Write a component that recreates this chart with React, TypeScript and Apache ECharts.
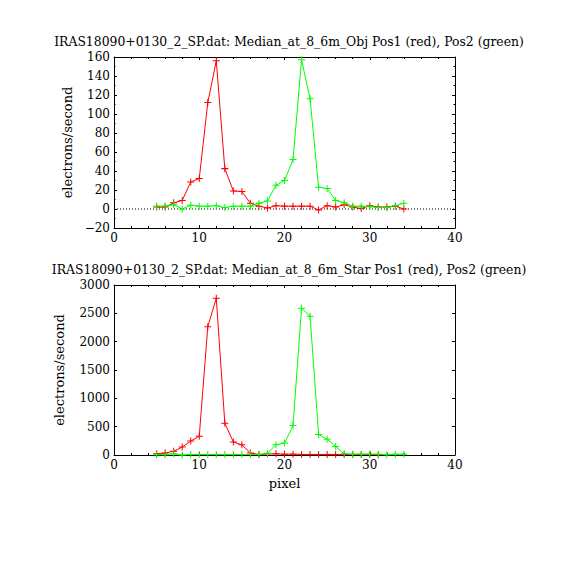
import React, { useEffect, useRef } from "react";
import * as echarts from "echarts";

const titleObj = "IRAS18090+0130_2_SP.dat: Median_at_8_6m_Obj Pos1 (red), Pos2 (green)";
const titleStar = "IRAS18090+0130_2_SP.dat: Median_at_8_6m_Star Pos1 (red), Pos2 (green)";
const yName = "electrons/second";
const xName = "pixel";

const pixels = [5, 6, 7, 8, 9, 10, 11, 12, 13, 14, 15, 16, 17, 18, 19, 20, 21, 22, 23, 24, 25, 26, 27, 28, 29, 30, 31, 32, 33, 34];

const objRed = [2, 2, 6.5, 9, 28.5, 32, 112, 156, 42.5, 19, 18.5, 6, 3, 1, 3.5, 3, 3, 3, 3, -1, 3.5, 2, 4.5, 2, 0.5, 3.5, 2, 2, 3, 0];
const objGreen = [3, 3, 4.5, 0, 4, 3, 3, 3.5, 1.5, 3, 3, 3, 6, 8.5, 25, 30, 52, 157, 116, 23, 21.5, 9, 6.5, 3, 3, 2.5, 1.5, 1.5, 3.5, 6];

const starRed = [20, 35, 65, 140, 246, 330, 2265, 2765, 560, 230, 180, 35, 10, 20, 20, 15, 15, 10, 10, 10, 10, 10, 10, 10, 10, 10, 5];
const starGreen = [5, 5, 20, 0, 10, 10, 10, 10, 10, 10, 10, 10, 10, 30, 182, 210, 520, 2590, 2450, 360, 280, 150, 20, 15, 15, 15, 15, 5, 15, 15];

const zeroLineX = [0, 40];
const zeroLineY = [0, 0];

const FONT = "DejaVu Serif";
const PLUS = "path://M6,0 H8 V6 H14 V8 H8 V14 H6 V8 H0 V6 H6 Z";

function pairs(xs: number[], ys: number[]) {
  return ys.map((y, i) => [xs[i], y]);
}

function fmt(v: number) {
  return v < 0 ? "\u2212" + String(-v) : String(v);
}

export default function App() {
  const ref = useRef<HTMLDivElement>(null);
  useEffect(() => {
    if (!ref.current) return;
    const chart = echarts.init(ref.current, null, { renderer: "svg" });
    const grids = [
      { left: 114, top: 57, width: 341, height: 171 },
      { left: 114, top: 285, width: 341, height: 170 },
    ];
    const axisLine = { show: true, onZero: false, lineStyle: { color: "#000", width: 1 } };
    const tick = { show: true, inside: true, length: 3, lineStyle: { color: "#000", width: 1 } };
    const label = { color: "#000", fontFamily: FONT, fontSize: 12, margin: 4 };
    const xAxes: any[] = [];
    const yAxes: any[] = [];
    [0, 1].forEach((g) => {
      xAxes.push({
        type: "value", gridIndex: g, position: "bottom", min: 0, max: 40, interval: 10,
        axisLine, axisTick: tick,
        minorTick: { show: true, splitNumber: 5, length: 2, lineStyle: { color: "#000" } },
        splitLine: { show: false }, axisLabel: label,
        name: g === 1 ? xName : "", nameLocation: "middle", nameGap: 22,
        nameTextStyle: { color: "#000", fontFamily: FONT, fontSize: 13 },
      });
      xAxes.push({
        type: "value", gridIndex: g, position: "top", min: 0, max: 40, interval: 10,
        axisLine, axisTick: tick,
        minorTick: { show: true, splitNumber: 5, length: 2, lineStyle: { color: "#000" } },
        splitLine: { show: false }, axisLabel: { show: false },
      });
    });
    const yDefs = [
      { min: -20, max: 160, interval: 20, minor: true },
      { min: 0, max: 3000, interval: 500, minor: false },
    ];
    yDefs.forEach((d, g) => {
      yAxes.push({
        type: "value", gridIndex: g, position: "left", min: d.min, max: d.max, interval: d.interval,
        axisLine, axisTick: tick,
        minorTick: { show: d.minor, splitNumber: 2, length: 1.5, lineStyle: { color: "#000" } },
        splitLine: { show: false },
        axisLabel: { ...label, formatter: fmt },
        name: yName, nameLocation: "middle", nameGap: g === 0 ? 38 : 48, nameRotate: 90,
        nameTextStyle: { color: "#000", fontFamily: FONT, fontSize: 13 },
      });
      yAxes.push({
        type: "value", gridIndex: g, position: "right", min: d.min, max: d.max, interval: d.interval,
        axisLine, axisTick: tick,
        minorTick: { show: d.minor, splitNumber: 2, length: 1.5, lineStyle: { color: "#000" } },
        splitLine: { show: false }, axisLabel: { show: false },
      });
    });
    const mk = (data: number[][], color: string, xi: number, yi: number) => ({
      type: "line", xAxisIndex: xi, yAxisIndex: yi, data,
      symbol: PLUS, symbolSize: 7, showSymbol: true,
      lineStyle: { color, width: 1 }, itemStyle: { color, borderWidth: 0 },
      emphasis: { disabled: true },
    });
    chart.setOption({
      animation: false,
      grid: grids,
      xAxis: xAxes,
      yAxis: yAxes,
      graphic: [
        { type: "text", x: 289, y: 41, style: { text: titleObj, font: `12.4px "${FONT}"`, fill: "#000", textAlign: "center", textVerticalAlign: "middle" } },
        { type: "text", x: 289, y: 269, style: { text: titleStar, font: `12.4px "${FONT}"`, fill: "#000", textAlign: "center", textVerticalAlign: "middle" } },
      ],
      series: [
        {
          type: "line", xAxisIndex: 0, yAxisIndex: 0, data: pairs(zeroLineX, zeroLineY),
          symbol: "none", lineStyle: { color: "#000", width: 1, type: [1, 2] }, silent: true,
        },
        mk(pairs(pixels, objRed), "#ff0000", 0, 0),
        mk(pairs(pixels, objGreen), "#00ff00", 0, 0),
        mk(pairs(pixels, starRed), "#ff0000", 2, 2),
        mk(pairs(pixels, starGreen), "#00ff00", 2, 2),
      ],
    });
    return () => chart.dispose();
  }, []);
  return (
    <div
      ref={ref}
      style={{ position: "fixed", left: 0, top: 0, width: 570, height: 570, background: "#fff" }}
    />
  );
}
